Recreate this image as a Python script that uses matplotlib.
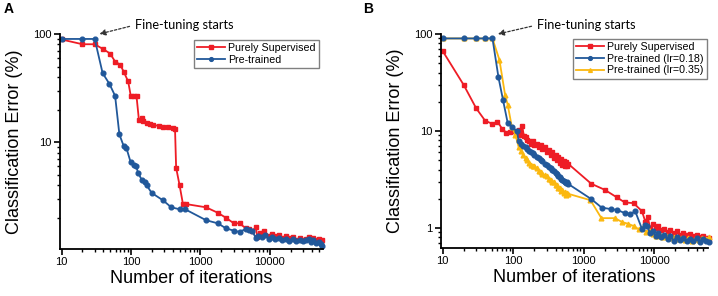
import matplotlib
matplotlib.use('Agg')
import matplotlib.pyplot as plt
from matplotlib.ticker import LogLocator, NullFormatter, FixedLocator, FixedFormatter

plt.rcParams['font.family'] = ['Liberation Sans', 'DejaVu Sans']

RED = '#ee1c25'
BLUE = '#21589a'
YELLOW = '#fbb810'

# panel A
a_sup_x = [10, 20, 30, 40, 50, 59, 70, 79, 91, 99, 110, 120, 130, 142, 150, 168, 187, 210, 250, 289, 340, 403, 430,
           446, 500, 558, 620, 1205, 1766, 2328, 3020, 3650, 4480, 5000, 5600, 6250, 6600, 7200, 8200, 9600, 10800,
           12000, 13500, 15000, 17000, 19000, 21500, 24000, 27000, 30000, 33000, 36000, 39000, 42000, 46000, 50000,
           54000, 57000]
a_sup_y = [89, 80.4, 80.4, 72.3, 66, 55.6, 52, 44.4, 36.4, 27, 26.8, 26.6, 16, 16.7, 15.6, 15.2, 14.8, 14.5, 14.1, 13.8,
           13.7, 13.6, 13.2, 5.8, 4.0, 2.7, 2.68, 2.5, 2.23, 2.0, 1.78, 1.78, 1.6, 1.58, 1.5, 1.65, 1.33, 1.45, 1.52, 1.36,
           1.42, 1.35, 1.38, 1.3, 1.36, 1.29, 1.33, 1.26, 1.3, 1.24, 1.28, 1.32, 1.25, 1.3, 1.24, 1.28, 1.22, 1.25]

a_pre_x = [10, 20, 30, 39, 49, 59, 68, 78, 86, 99, 110, 118, 127, 142, 157, 168, 198, 289, 380, 501, 600, 1205, 1766,
           2328, 3020, 3650, 4480, 5000, 5600, 6250, 6800, 7700, 8600, 9600, 10800, 12000, 13500, 15000, 17000, 19000,
           21500, 24000, 27000, 30000, 33000, 36000, 39000, 42000, 46000, 50000, 54000, 57000]
a_pre_y = [90, 90, 90, 43.5, 34.5, 26.8, 11.8, 9.3, 8.8, 6.5, 6.2, 6.0, 5.2, 4.5, 4.3, 4.0, 3.4, 2.9, 2.5, 2.4, 2.4, 1.9,
           1.78, 1.6, 1.52, 1.48, 1.58, 1.55, 1.5, 1.3, 1.35, 1.33, 1.38, 1.27, 1.32, 1.28, 1.3, 1.24, 1.28, 1.23, 1.27,
           1.22, 1.26, 1.21, 1.25, 1.28, 1.2, 1.24, 1.18, 1.2, 1.14, 1.1]

# panel B
b_sup_x = [10, 20, 30, 40, 51, 60, 70, 80, 90, 100, 110, 120, 130, 135, 142, 150, 160, 170, 180, 190, 200, 215, 230,
           245, 260, 280, 300, 320, 340, 360, 380, 400, 420, 440, 460, 480, 500, 520, 540, 560, 580, 600, 1285, 1995,
           2940, 3830, 5100, 6700, 7500, 8100, 8800, 9500, 10500, 11500, 12500, 14000, 15500, 17000, 19000, 21000,
           23500, 26000, 29000, 32000, 36000, 40000, 45000, 50000, 55000, 60000]
b_sup_y = [67, 29.7, 17.1, 12.8, 11.8, 12.5, 10.5, 9.6, 9.7, 10, 9.2, 10.2, 9.0, 11.2, 8.9, 8.6, 8.0, 7.9, 7.4, 7.8, 7.2,
           7.3, 6.8, 7.2, 6.5, 6.9, 6.0, 6.3, 5.7, 6.0, 5.3, 5.6, 5.0, 5.4, 4.7, 5.1, 4.5, 4.9, 4.3, 4.8, 4.4, 4.6, 2.85,
           2.47, 2.07, 1.83, 1.8, 1.49, 1.16, 1.3, 0.98, 1.1, 1.0, 1.05, 0.95, 0.98, 0.9, 0.95, 0.88, 0.92, 0.85, 0.88,
           0.84, 0.86, 0.82, 0.85, 0.8, 0.83, 0.79, 0.78]

b_pre1_x = [10, 20, 30, 40, 51, 62, 72, 84, 97, 114, 120, 130, 140, 150, 160, 170, 180, 190, 200, 215, 230, 245, 260,
            280, 300, 320, 340, 360, 380, 400, 420, 440, 460, 480, 500, 520, 540, 560, 580, 600, 1285, 1800, 2460, 3000,
            3830, 4500, 5400, 6700, 7400, 8000, 8700, 9500, 10500, 11500, 12500, 14000, 15500, 17000, 19000, 21000,
            23500, 26000, 29000, 32000, 36000, 40000, 45000, 50000, 55000, 60000]
b_pre1_y = [90, 90, 90, 90, 90, 35.8, 20.8, 12, 10.9, 9.9, 7.8, 7.4, 7.0, 6.8, 6.5, 6.2, 6.0, 5.9, 5.6, 5.4, 5.3, 5.0,
            4.9, 4.6, 4.5, 4.2, 4.15, 3.95, 3.85, 3.65, 3.6, 3.4, 3.35, 3.2, 3.15, 3.05, 3.0, 2.9, 2.95, 2.85, 1.98, 1.62,
            1.56, 1.53, 1.42, 1.38, 1.48, 0.98, 1.06, 1.05, 0.88, 0.93, 0.82, 0.88, 0.8, 0.84, 0.76, 0.82, 0.74, 0.8,
            0.75, 0.78, 0.73, 0.77, 0.74, 0.78, 0.72, 0.76, 0.73, 0.72]

b_pre2_x = [10, 20, 30, 40, 51, 64, 77, 84, 96, 108, 120, 130, 140, 150, 160, 170, 180, 190, 200, 215, 230, 245, 260,
            280, 300, 320, 340, 360, 380, 400, 420, 440, 460, 480, 500, 520, 540, 560, 580, 600, 1250, 1786, 2770, 3500,
            4300, 5200, 6000, 6700, 7600, 8500, 9500, 10500, 12000, 13500, 15000, 17000, 19000, 21000, 24000, 27000,
            30000, 34000, 38000, 43000, 48000, 54000, 60000]
b_pre2_y = [90, 90, 90, 90, 90, 54, 23.5, 18.5, 11, 9.1, 6.8, 6.2, 5.6, 5.2, 5.0, 4.7, 4.5, 4.3, 4.4, 4.1, 3.9, 3.8,
            3.6, 3.5, 3.4, 3.2, 3.15, 3.0, 2.95, 2.8, 2.75, 2.6, 2.55, 2.4, 2.45, 2.3, 2.35, 2.2, 2.3, 2.25, 1.93, 1.26,
            1.26, 1.15, 1.1, 1.04, 0.97, 1.0, 0.9, 0.95, 0.86, 0.83, 0.84, 0.8, 0.82, 0.78, 0.8, 0.76, 0.79, 0.75, 0.78,
            0.74, 0.77, 0.75, 0.78, 0.76, 0.8]

fig = plt.figure(figsize=(7.18, 2.96), dpi=100)
axA = fig.add_axes([60 / 718, 47 / 296, 263 / 718, 215 / 296])
axB = fig.add_axes([441 / 718, 48 / 296, 267 / 718, 214 / 296])


def style_axis(ax, ylim, yticks):
    ax.set_xscale('log')
    ax.set_yscale('log')
    ax.set_xlim(9.5, 58000)
    ax.set_ylim(*ylim)
    for s in ['top', 'right']:
        ax.spines[s].set_visible(False)
    for s in ['left', 'bottom']:
        ax.spines[s].set_linewidth(1.3)
    ax.xaxis.set_major_locator(FixedLocator([10, 100, 1000, 10000]))
    ax.xaxis.set_major_formatter(FixedFormatter(['10', '100', '1000', '10000']))
    ax.xaxis.set_minor_locator(LogLocator(base=10, subs=range(2, 10), numticks=20))
    ax.xaxis.set_minor_formatter(NullFormatter())
    ax.yaxis.set_major_locator(FixedLocator(yticks))
    ax.yaxis.set_major_formatter(FixedFormatter([str(int(t)) for t in yticks]))
    ax.yaxis.set_minor_locator(LogLocator(base=10, subs=range(2, 10), numticks=20))
    ax.yaxis.set_minor_formatter(NullFormatter())
    ax.tick_params(which='major', direction='out', length=4, width=1.2, labelsize=8, pad=2)
    ax.tick_params(which='minor', direction='out', length=2, width=1)
    ax.set_xlabel('Number of iterations', fontsize=13, labelpad=2)
    ax.set_ylabel('Classification Error (%)', fontsize=13, labelpad=7)


style_axis(axA, (1.03, 100), [10, 100])
style_axis(axB, (0.62, 100), [1, 10, 100])

kw = dict(lw=1.3, ms=3.4, clip_on=False)
axA.plot(a_sup_x, a_sup_y, color=RED, marker='s', label='Purely Supervised', **kw)
axA.plot(a_pre_x, a_pre_y, color=BLUE, marker='o', label='Pre-trained', **kw)

axB.plot(b_sup_x, b_sup_y, color=RED, marker='s', label='Purely Supervised', **kw)
axB.plot(b_pre2_x, b_pre2_y, color=YELLOW, marker='^', label='Pre-trained (lr=0.35)', **kw)
axB.plot(b_pre1_x, b_pre1_y, color=BLUE, marker='o', label='Pre-trained (lr=0.18)', **kw)

legkw = dict(loc='upper right', bbox_transform=fig.transFigure, borderaxespad=0, fancybox=False,
             edgecolor='#808080', fontsize=7.7, handlelength=2.6, handletextpad=0.3, labelspacing=0.15,
             borderpad=0.3, framealpha=1, markerscale=0.8)
legA = axA.legend(bbox_to_anchor=(319 / 718, 1 - 40 / 296), **legkw)
hB, lB = axB.get_legend_handles_labels()
legB = axB.legend([hB[0], hB[2], hB[1]], [lB[0], lB[2], lB[1]], bbox_to_anchor=(707 / 718, 1 - 39 / 296), **legkw)
for leg in (legA, legB):
    leg.get_frame().set_linewidth(1)

arrow = dict(arrowstyle='-|>', color='#333333', lw=0.9, linestyle=(0, (2, 1.5)), mutation_scale=9,
             shrinkA=2, shrinkB=0, relpos=(0, 0.5))
axA.annotate('Fine-tuning starts', xy=(35, 100), xycoords='data', xytext=(135 / 718, 1 - 25 / 296),
             textcoords='figure fraction', ha='left', va='center', fontsize=9.2, family=['Lato', 'DejaVu Sans'],
             arrowprops=arrow, annotation_clip=False)
axB.annotate('Fine-tuning starts', xy=(61, 100), xycoords='data', xytext=(537 / 718, 1 - 25 / 296),
             textcoords='figure fraction', ha='left', va='center', fontsize=9.2, family=['Lato', 'DejaVu Sans'],
             arrowprops=arrow, annotation_clip=False)

fig.text(4 / 718, 1 - 9 / 296, 'A', fontsize=10, fontweight='bold', va='center', ha='left')
fig.text(363 / 718, 1 - 9 / 296, 'B', fontsize=10, fontweight='bold', va='center', ha='left')

fig.savefig('out.png', dpi=100)
